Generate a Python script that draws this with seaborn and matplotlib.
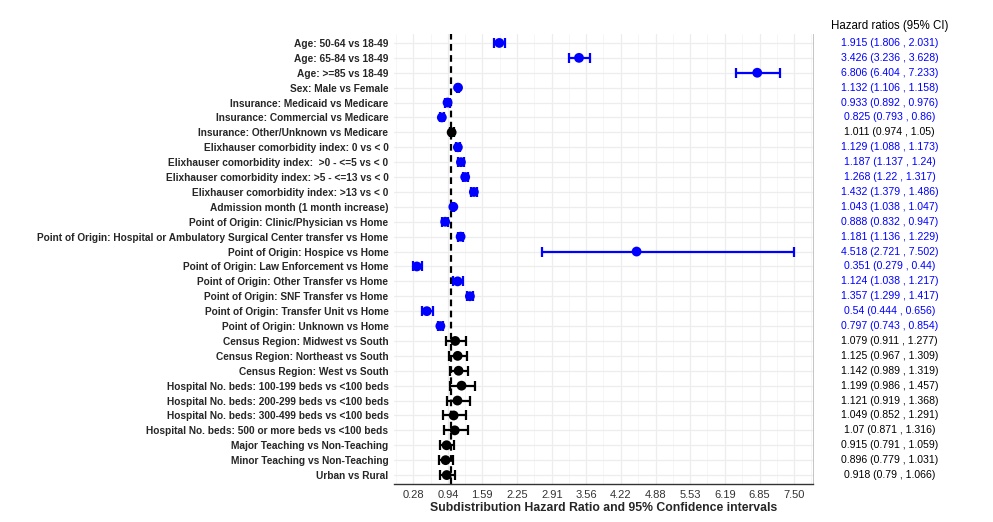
"""
Forest plot - subdistribution hazard ratios with 95% CI
"""

import numpy as np
import pandas as pd
import matplotlib
matplotlib.use("Agg")
import matplotlib.pyplot as plt
import seaborn as sns

# ---- data ----------------------------------------------------------------
labels = [
    "Age: 50-64 vs 18-49",
    "Age: 65-84 vs 18-49",
    "Age: >=85 vs 18-49",
    "Sex: Male vs Female",
    "Insurance: Medicaid vs Medicare",
    "Insurance: Commercial vs Medicare",
    "Insurance: Other/Unknown vs Medicare",
    "Elixhauser comorbidity index: 0 vs < 0",
    "Elixhauser comorbidity index:  >0 - <=5 vs < 0",
    "Elixhauser comorbidity index: >5 - <=13 vs < 0",
    "Elixhauser comorbidity index: >13 vs < 0",
    "Admission month (1 month increase)",
    "Point of Origin: Clinic/Physician vs Home",
    "Point of Origin: Hospital or Ambulatory Surgical Center transfer vs Home",
    "Point of Origin: Hospice vs Home",
    "Point of Origin: Law Enforcement vs Home",
    "Point of Origin: Other Transfer vs Home",
    "Point of Origin: SNF Transfer vs Home",
    "Point of Origin: Transfer Unit vs Home",
    "Point of Origin: Unknown vs Home",
    "Census Region: Midwest vs South",
    "Census Region: Northeast vs South",
    "Census Region: West vs South",
    "Hospital No. beds: 100-199 beds vs <100 beds",
    "Hospital No. beds: 200-299 beds vs <100 beds",
    "Hospital No. beds: 300-499 beds vs <100 beds",
    "Hospital No. beds: 500 or more beds vs <100 beds",
    "Major Teaching vs Non-Teaching",
    "Minor Teaching vs Non-Teaching",
    "Urban vs Rural",
]
hr = [1.915, 3.426, 6.806, 1.132, 0.933, 0.825, 1.011, 1.129, 1.187, 1.268,
      1.432, 1.043, 0.888, 1.181, 4.518, 0.351, 1.124, 1.357, 0.54, 0.797,
      1.079, 1.125, 1.142, 1.199, 1.121, 1.049, 1.07, 0.915, 0.896, 0.918]
ci_low = [1.806, 3.236, 6.404, 1.106, 0.892, 0.793, 0.974, 1.088, 1.137, 1.22,
          1.379, 1.038, 0.832, 1.136, 2.721, 0.279, 1.038, 1.299, 0.444, 0.743,
          0.911, 0.967, 0.989, 0.986, 0.919, 0.852, 0.871, 0.791, 0.779, 0.79]
ci_high = [2.031, 3.628, 7.233, 1.158, 0.976, 0.86, 1.05, 1.173, 1.24, 1.317,
           1.486, 1.047, 0.947, 1.229, 7.502, 0.44, 1.217, 1.417, 0.656, 0.854,
           1.277, 1.309, 1.319, 1.457, 1.368, 1.291, 1.316, 1.059, 1.031, 1.066]
x_ticks = [0.28, 0.94, 1.59, 2.25, 2.91, 3.56, 4.22, 4.88, 5.53, 6.19, 6.85, 7.50]

df = pd.DataFrame({"label": labels, "hr": hr, "lo": ci_low, "hi": ci_high})
df["pos"] = np.arange(len(df), 0, -1)          # first row at the top
df["sig"] = np.where((df["lo"] > 1) | (df["hi"] < 1), "yes", "no")
colors = {"yes": "#0000ff", "no": "#000000"}

# ---- figure ---------------------------------------------------------------
sns.set_style("white")
plt.rcParams["font.family"] = ["Liberation Sans", "DejaVu Sans"]

W, H = 993, 522
fig = plt.figure(figsize=(W / 100, H / 100), dpi=100)
ax = fig.add_axes([394 / W, 38 / H, 419 / W, 450 / H])
tab = fig.add_axes([813 / W, 38 / H, 156 / W, 450 / H])

lo_all, hi_all = df["lo"].min(), df["hi"].max()
pad = 0.05 * (hi_all - lo_all)
ax.set_xlim(lo_all - pad, hi_all + pad)
ax.set_ylim(0.4, len(df) + 0.6)

# grid (major + minor like ggplot)
step = x_ticks[1] - x_ticks[0]
ax.set_xticks(x_ticks)
ax.set_xticks([(a + b) / 2 for a, b in zip(x_ticks[:-1], x_ticks[1:])] +
              [x_ticks[0] - step / 2, x_ticks[-1] + step / 2], minor=True)
ax.grid(True, which="major", color="#ededed", linewidth=0.9)
ax.grid(True, which="minor", axis="x", color="#f5f5f5", linewidth=0.6)
ax.set_axisbelow(True)

ax.axvline(1, color="black", linestyle=(0, (3, 2)), linewidth=1.6, zorder=2)

for s, grp in df.groupby("sig"):
    ax.errorbar(grp["hr"], grp["pos"],
                xerr=[grp["hr"] - grp["lo"], grp["hi"] - grp["hr"]],
                fmt="none", ecolor=colors[s], elinewidth=1.6,
                capsize=3.4, capthick=1.6, zorder=3)

sns.scatterplot(data=df, x="hr", y="pos", hue="sig", palette=colors,
                s=50, edgecolor="none", legend=False, ax=ax, zorder=4)

ax.set_yticks(df["pos"])
ax.set_yticklabels(df["label"], fontsize=7.3, fontweight="bold")
ax.set_xticklabels([f"{t:.2f}" for t in x_ticks], fontsize=8, color="#333333")
ax.set_xlabel("Subdistribution Hazard Ratio and 95% Confidence intervals",
              fontsize=8.8, fontweight="bold", labelpad=2)
ax.set_ylabel("")
ax.tick_params(axis="y", length=2.5, color="#555555", pad=1.5)
ax.tick_params(axis="x", length=2.5, color="#555555", pad=1.5)

for side in ["top", "left"]:
    ax.spines[side].set_visible(False)
ax.spines["bottom"].set_color("#333333")
ax.spines["bottom"].set_linewidth(1.0)
ax.spines["right"].set_color("#c4c4c4")
ax.spines["right"].set_linewidth(0.7)

# ---- right-hand table -----------------------------------------------------
tab.set_xlim(0, 1)
tab.set_ylim(ax.get_ylim())
tab.axis("off")
for _, r in df.iterrows():
    tab.text(0.49, r["pos"], f"{r['hr']:g} ({r['lo']:g} , {r['hi']:g})",
             ha="center", va="center", fontsize=7.6, color=colors[r["sig"]])
tab.text(0.49, len(df) + 1.15, "Hazard ratios (95% CI)", ha="center",
         va="center", fontsize=8.3, color="black")

fig.savefig("out.png", dpi=100)
plt.close(fig)
